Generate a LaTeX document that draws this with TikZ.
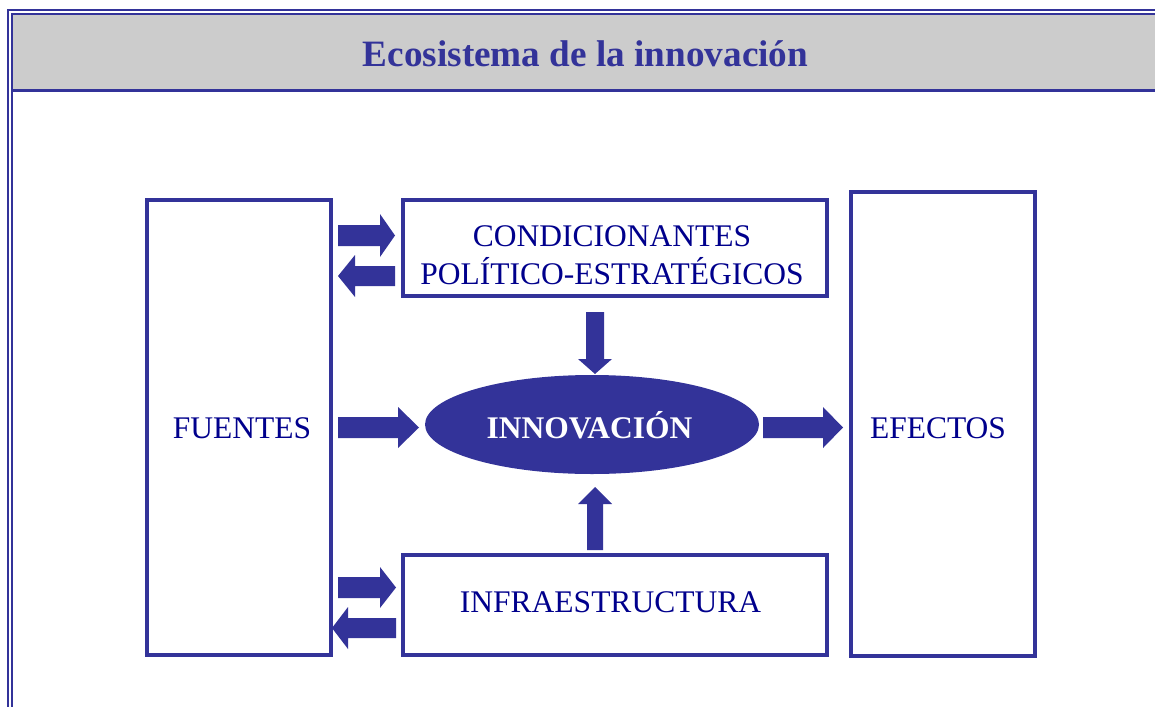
\documentclass[tikz,border=0pt]{standalone}
\usepackage{fontspec}
\setmainfont{Liberation Serif}
\usetikzlibrary{shapes.geometric}
\definecolor{frameblue}{RGB}{51,51,153}
\definecolor{textnavy}{RGB}{0,0,140}
\definecolor{headgray}{RGB}{204,204,204}
\newcommand\harr[6]{% tailx, tipx, y, shaft half, head half, head base x
  \fill[frameblue] (#1,{#3-#4}) -- (#6,{#3-#4}) -- (#6,{#3-#5}) -- (#2,#3) -- (#6,{#3+#5}) -- (#6,{#3+#4}) -- (#1,{#3+#4}) -- cycle;}
\newcommand\varr[6]{% x, taily, tipy, shaft half, head half, head base y
  \fill[frameblue] ({#1-#4},#2) -- ({#1-#4},#6) -- ({#1-#5},#6) -- (#1,#3) -- ({#1+#5},#6) -- ({#1+#4},#6) -- ({#1+#4},#2) -- cycle;}
\tikzset{
  frameline/.style={draw=frameblue, line width=2.5pt},
  boxnode/.style={draw=frameblue, line width=3.5pt, inner sep=0pt},
  lbl/.style={text=textnavy, font=\fontsize{31.5}{38}\selectfont, anchor=base, inner sep=0pt},
}
\begin{document}
\begin{tikzpicture}[x=1pt,y=-1pt]
\useasboundingbox (0,0) rectangle (1155,706);
\clip (0,0) rectangle (1155,706);
% header
\fill[headgray] (13.25,15.25) rectangle (1170,89.25);
\draw[frameline] (8,730) -- (8,10) -- (1170,10);
\draw[frameline] (12,730) -- (12,14) -- (1170,14);
\draw[frameline] (12,90.5) -- (1170,90.5);
\node[text=frameblue, font=\fontsize{37.2}{44}\selectfont\bfseries, anchor=base, inner sep=0pt] (title) at (585.5,67) {Ecosistema de la innovación};
% boxes
\node[boxnode, minimum width=184pt, minimum height=455pt] (fuentes) at (239,427.5) {};
\node[boxnode, minimum width=424pt, minimum height=96pt] (cond) at (615,248) {};
\node[boxnode, minimum width=424pt, minimum height=100pt] (infra) at (615,605) {};
\node[boxnode, minimum width=184pt, minimum height=464pt] (efectos) at (943,424) {};
\node[ellipse, fill=frameblue, minimum width=334pt, minimum height=99pt, inner sep=0pt] (innov) at (592,424.5) {};
% labels
\node[lbl] (tfuentes) at (242,438) {FUENTES};
\node[lbl] (tefectos) at (938,438) {EFECTOS};
\node[lbl] (tcond1) at (612,246) {CONDICIONANTES};
\node[lbl] (tcond2) at (612,284) {POLÍTICO-ESTRATÉGICOS};
\node[lbl] (tinfra) at (610.5,612) {INFRAESTRUCTURA};
\node[lbl, text=white, font=\fontsize{31.5}{38}\selectfont\bfseries] (tinnov) at (589.5,438) {INNOVACIÓN};
% block arrows
\harr{338}{395}{235.5}{10.5}{21.5}{380}
\harr{395}{338}{276}{10}{21}{355}
\harr{338}{419}{427.5}{10.5}{20.5}{398}
\harr{763}{843}{427.5}{10.5}{20.5}{823}
\harr{338}{396}{587.5}{10.5}{20.5}{380}
\harr{396}{332}{628}{10}{21}{348}
\varr{595}{312}{374}{9}{17}{359}
\varr{595}{550}{487}{8}{17}{504}
\end{tikzpicture}
\end{document}
